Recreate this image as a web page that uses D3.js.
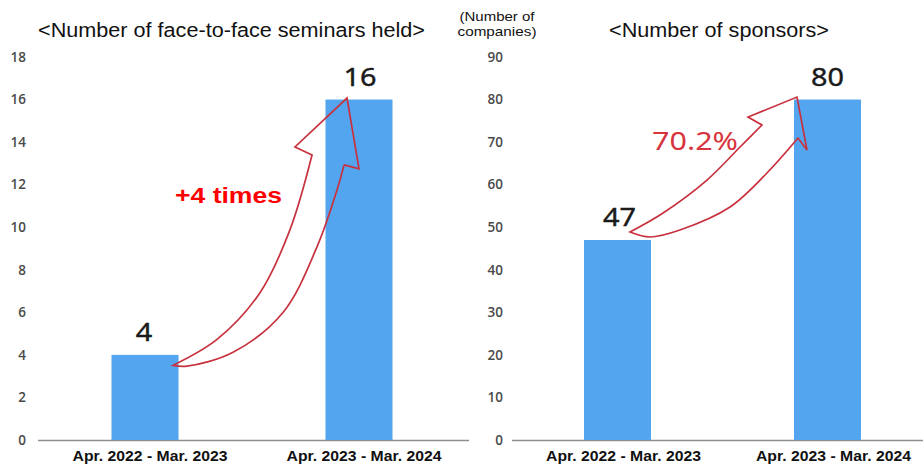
<!DOCTYPE html>
<html>
<head>
<meta charset="utf-8">
<script src="https://cdn.jsdelivr.net/npm/d3@7"></script>
<style>
  html, body { margin: 0; padding: 0; background: #fff; }
  svg { display: block; }
</style>
</head>
<body>
<svg id="chart" width="923" height="466"></svg>
<script>
// ---- data ----
const categories = ["Apr. 2022 - Mar. 2023", "Apr. 2023 - Mar. 2024"];
const seminarValues = [4, 16];
const sponsorValues = [47, 80];
const seminarTicks = [0, 2, 4, 6, 8, 10, 12, 14, 16, 18];
const sponsorTicks = [0, 10, 20, 30, 40, 50, 60, 70, 80, 90];
const seminarTitle = "<Number of face-to-face seminars held>";
const sponsorTitle = "<Number of sponsors>";
const sponsorUnit = ["(Number of", "companies)"];
const seminarNote = "+4 times";
const sponsorNote = "70.2%";

// ---- styles ----
const BAR = "#52a5ee";
const AXIS = "#8f8f8f";
const ARROW = "#c8323f";

const svg = d3.select("#chart");

function fitText(sel, w) {
  sel.attr("textLength", w).attr("lengthAdjust", "spacingAndGlyphs");
}

function arrowPath(tail, tip, shape) {
  const P = ([u, v]) => [tail[0] + u * (tip[0] - tail[0]), tail[1] + v * (tip[1] - tail[1])];
  const line = d3.line().curve(d3.curveCatmullRom.alpha(0.5));
  const upper = [[0, 0], ...shape.upper, shape.leftNotch].map(P);
  const lower = [shape.rightNotch, ...shape.lower.slice().reverse(), [0, 0]].map(P);
  const head = [shape.leftBarb, [1, 1], shape.rightBarb, shape.rightNotch].map(P);
  let d = line(upper);
  d += head.map(p => "L" + p[0] + "," + p[1]).join("");
  d += line(lower).replace(/^M/, "L");
  return d + "Z";
}

function panel(cfg) {
  const x = d3.scaleBand().domain(categories).range(cfg.xRange)
    .paddingInner(cfg.padIn).paddingOuter(cfg.padOut);
  const y = d3.scaleLinear().domain([0, cfg.ticks[cfg.ticks.length - 1]]).range([440, 57]);
  const g = svg.append("g");

  // y tick labels
  g.selectAll("text.tick").data(cfg.ticks).join("text")
    .attr("class", "tick")
    .attr("x", cfg.tickX).attr("y", d => y(d))
    .attr("dy", "0.35em")
    .attr("text-anchor", cfg.tickAnchor)
    .attr("font-family", "'Open Sans', sans-serif")
    .attr("font-weight", 600)
    .attr("font-size", 13.5)
    .attr("fill", "#4a4a4a")
    .text(d => d);

  // baseline
  g.append("line")
    .attr("x1", cfg.lineX[0]).attr("x2", cfg.lineX[1])
    .attr("y1", y(0) + 0.5).attr("y2", y(0) + 0.5)
    .attr("stroke", AXIS).attr("stroke-width", 1.6);

  // bars
  g.selectAll("rect.bar").data(cfg.values).join("rect")
    .attr("class", "bar")
    .attr("x", (d, i) => x(categories[i]))
    .attr("width", x.bandwidth())
    .attr("y", d => y(d))
    .attr("height", d => y(0) - y(d))
    .attr("fill", BAR);

  // value labels
  g.selectAll("text.val").data(cfg.values).join("text")
    .attr("class", "val")
    .attr("x", (d, i) => x(categories[i]) + x.bandwidth() / 2 + cfg.valDx[i])
    .attr("y", d => y(d) - 14)
    .attr("text-anchor", "middle")
    .attr("font-family", "'Noto Sans', sans-serif")
    .attr("font-size", 25)
    .attr("fill", "#1a1a1a")
    .attr("stroke", "#1a1a1a").attr("stroke-width", 0.4)
    .text(d => d)
    .each(function (d) { fitText(d3.select(this), String(d).length * 16.5); });

  // category labels (x axis)
  const ax = g.append("g").attr("transform", `translate(${cfg.catDx},${y(0)})`)
    .call(d3.axisBottom(x).tickSize(0).tickPadding(8));
  ax.select(".domain").remove();
  ax.selectAll("text")
    .attr("font-family", "'Liberation Sans', Arial, sans-serif")
    .attr("font-weight", "bold")
    .attr("font-size", 15.5)
    .attr("fill", "#111")
    .attr("dy", "0.85em")
    .each(function () { fitText(d3.select(this), 155); });

  // title
  const t = g.append("text")
    .attr("x", cfg.titleX).attr("y", 37)
    .attr("text-anchor", "middle")
    .attr("font-family", "'Liberation Sans', Arial, sans-serif")
    .attr("font-size", 20)
    .attr("fill", "#111")
    .text(cfg.title);
  fitText(t, cfg.titleW);

  // arrow
  const tail = [x(categories[0]) + x.bandwidth() + cfg.tailOff[0], y(cfg.values[0]) + cfg.tailOff[1]];
  const tip = [x(categories[1]) + cfg.tipOff[0], y(cfg.values[1]) + cfg.tipOff[1]];
  g.append("path")
    .attr("d", arrowPath(tail, tip, cfg.arrow))
    .attr("fill", "none")
    .attr("stroke", ARROW)
    .attr("stroke-width", 1.7)
    .attr("stroke-linejoin", "miter");

  return { x, y, g };
}

// ---- left panel: seminars ----
const L = panel({
  values: seminarValues, ticks: seminarTicks,
  xRange: [38, 466], padIn: 0.687, padOut: 0.3435,
  tickX: 26, tickAnchor: "end",
  lineX: [38, 469],
  valDx: [-1, 1],
  catDx: 5,
  title: seminarTitle, titleX: 231.5, titleW: 387,
  tailOff: [-5.5, 10.5], tipOff: [21.5, -1.5],
  arrow: {
    upper: [[0.253, 0.097], [0.5, 0.272], [0.672, 0.507]],
    lower: [[0.08, -0.003], [0.345, 0.049], [0.632, 0.198], [0.828, 0.444], [0.943, 0.657]],
    leftNotch: [0.799, 0.787], leftBarb: [0.701, 0.817],
    rightBarb: [1.069, 0.735], rightNotch: [0.983, 0.75]
  }
});
const n1 = L.g.append("text")
  .attr("x", 175).attr("y", 203)
  .attr("font-family", "'Liberation Sans', Arial, sans-serif")
  .attr("font-weight", "bold").attr("font-size", 22)
  .attr("fill", "#ff0000")
  .text(seminarNote);
fitText(n1, 107);

// ---- right panel: sponsors ----
const R = panel({
  values: sponsorValues, ticks: sponsorTicks,
  xRange: [512, 933], padIn: 0.681, padOut: 0.343,
  tickX: 503, tickAnchor: "end",
  lineX: [512, 923],
  valDx: [2, 0],
  catDx: 6,
  title: sponsorTitle, titleX: 719, titleW: 220,
  tailOff: [-21, -8], tipOff: [3, -2.5],
  arrow: {
    upper: [[0.198, 0.141], [0.461, 0.385], [0.659, 0.63]],
    lower: [[0.12, -0.037], [0.299, 0.015], [0.599, 0.185], [0.82, 0.437]],
    leftNotch: [0.79, 0.793], leftBarb: [0.707, 0.852],
    rightBarb: [1.06, 0.607], rightNotch: [1.006, 0.696]
  }
});
const n2 = R.g.append("text")
  .attr("x", 652).attr("y", 150)
  .attr("font-family", "'Noto Sans', sans-serif")
  .attr("font-size", 25)
  .attr("fill", "#d8343e")
  .text(sponsorNote);
fitText(n2, 86);

// unit label
const unitW = [75, 79];
svg.selectAll("text.unit").data(sponsorUnit).join("text")
  .attr("class", "unit")
  .attr("x", 497).attr("y", (d, i) => 21 + i * 15)
  .attr("text-anchor", "middle")
  .attr("font-family", "'Liberation Sans', Arial, sans-serif")
  .attr("font-size", 13)
  .attr("fill", "#111")
  .text(d => d)
  .each(function (d, i) { fitText(d3.select(this), unitW[i]); });
</script>
</body>
</html>
